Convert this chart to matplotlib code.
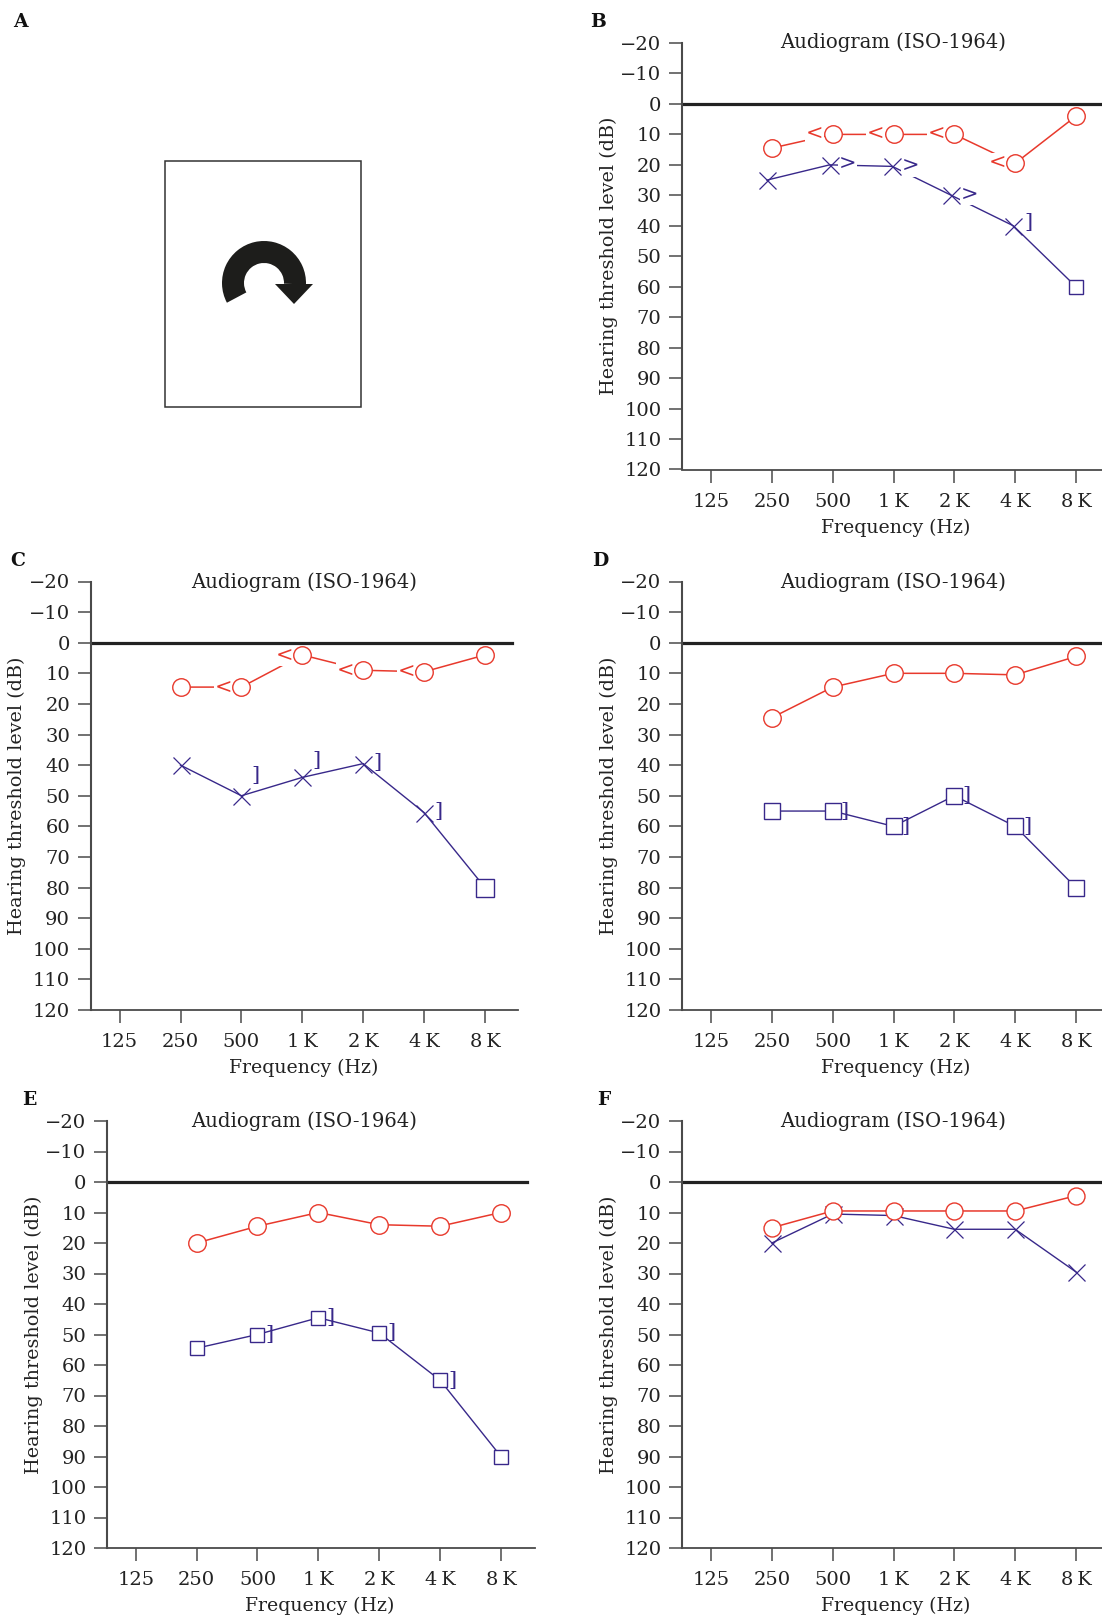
import matplotlib
matplotlib.use("Agg")
import matplotlib.pyplot as plt
from matplotlib.patches import Wedge, Polygon, Rectangle

plt.rcParams['font.family'] = 'DejaVu Serif'

W, H = 1102, 1616
RED = '#e8392c'
BLUE = '#38288a'
AXC = '#4a4a4a'
TXT = '#222222'

freq_labels = ['125', '250', '500', '1\u2009K', '2\u2009K', '4\u2009K', '8\u2009K']
y_ticks = list(range(-20, 130, 10))
y_labels = ['\u221220', '\u221210'] + [str(v) for v in range(0, 130, 10)]

# hearing thresholds, positions 1..6 = 250 Hz .. 8 kHz
b_red = [14.5, 10, 10, 10, 19.5, 4]
b_blue_x = [0.92, 1.95, 2.98, 3.95, 4.97, 6]
b_blue = [25, 20, 20.5, 30, 40, 60]
c_red = [14.5, 14.5, 4, 9, 9.5, 4]
c_blue = [40, 50, 44, 39.5, 55.5, 80]
d_red = [24.5, 14.5, 10, 10, 10.5, 4.5]
d_blue = [55, 55, 60, 50, 60, 80]
e_red = [20, 14.5, 10, 14, 14.5, 10]
e_blue = [54.5, 50, 44.5, 49.5, 65, 90]
f_red = [15, 9.5, 9.5, 9.5, 9.5, 4.5]
f_blue = [20, 10.5, 11, 15.5, 15.5, 29.5]
xs = [1, 2, 3, 4, 5, 6]

fig = plt.figure(figsize=(W / 100, H / 100), dpi=100)


def px(v):
    return v * 0.72


def panel(left, top, bottom, tick0, tick6, right, zero_end, red, blue, blue_x, blue_m, circle, blue_s, title_x, title_y, xlabel_x):
    ax = fig.add_axes([left / W, 1 - bottom / H, (right - left) / W, (bottom - top) / H])
    step = (tick6 - tick0) / 6
    ax.set_xlim((left - tick0) / step, (right - tick0) / step)
    ax.set_ylim(120, -20)
    ax.patch.set_alpha(0)
    for s in ['top', 'right']:
        ax.spines[s].set_visible(False)
    for s in ['left', 'bottom']:
        ax.spines[s].set_color(AXC)
        ax.spines[s].set_linewidth(1.5)
    ax.spines['bottom'].set_linewidth(1.3)
    ax.set_xticks(range(7))
    ax.set_xticklabels(freq_labels)
    ax.set_yticks(y_ticks)
    ax.set_yticklabels(y_labels)
    ax.tick_params(axis='both', length=px(13.5), width=1.1, color=AXC, labelsize=14, labelcolor=TXT)
    ax.tick_params(axis='x', pad=7)
    ax.tick_params(axis='y', pad=5)
    ax.axhline(0, xmax=(zero_end - left) / (right - left), color='#222222', lw=2.3, zorder=2)
    ax.set_xlabel('Frequency (Hz)', fontsize=13.6, color=TXT, labelpad=5.5, x=(xlabel_x + (tick0 - left) / step) / ((right - left) / step))
    ax.set_ylabel('Hearing threshold level (dB)', fontsize=13.8, color=TXT)
    ax.yaxis.set_label_coords(-64 / (right - left), 0.5)
    ax.text(title_x, title_y, 'Audiogram (ISO-1964)', fontsize=14.1, color=TXT, ha='center', va='center')
    ax.plot(xs, red, color=RED, lw=1.1, zorder=3)
    ax.plot(xs, red, ls='none', marker='o', ms=px(circle), mfc='white', mec=RED, mew=1.0, zorder=5, clip_on=False, snap=False)
    ax.plot(blue_x, blue, color=BLUE, lw=1.0, zorder=3)
    for x, y, m in zip(blue_x, blue, blue_m):
        if m == 'x':
            ax.plot(x, y, ls='none', marker='x', ms=px(17), mec=BLUE, mew=0.9, zorder=4.5, clip_on=False, snap=False)
        else:
            ax.plot(x, y, ls='none', marker='s', ms=px(blue_s), mfc='white', mec=BLUE, mew=1.0, zorder=4.5, clip_on=False, snap=False)
    return ax


def sym(ax, x, y, s, dx, dy, color, mask=True):
    box = dict(fc='white', ec='none', pad=0.5) if mask else None
    size = 15 if mask else 15
    ax.annotate(s, (x, y), xytext=(px(dx), -px(dy)), textcoords='offset points', color=color,
                fontsize=size, ha='center', va='center', zorder=4, bbox=box)


# panel A
ov = fig.add_axes([0, 0, 1, 1], zorder=10)
ov.set_xlim(0, W)
ov.set_ylim(H, 0)
ov.axis('off')
ov.patch.set_alpha(0)
ov.add_patch(Rectangle((165, 161), 196, 246, fc='none', ec='#333333', lw=1.1))
ov.add_patch(Wedge((264, 283), 42, 152, 362, width=22, fc='#1d1d1b', ec='none'))
ov.add_patch(Polygon([(275, 284), (313, 284), (294, 304)], fc='#1d1d1b', ec='none'))
for lab, x, y in [('A', 20, 22), ('B', 598, 22), ('C', 18, 561), ('D', 600, 561), ('E', 29, 1100), ('F', 604, 1100)]:
    ov.text(x, y, lab, fontsize=13.5, fontweight='bold', color='#111111', ha='center', va='center')

ax = panel(682, 43, 469.5, 711, 1076, 1102, 1102, b_red, b_blue, b_blue_x, ['x'] * 5 + ['s'], 17.5, 13.5, 3, -20.2, 3.04)
for i in [2, 3, 4, 5]:
    sym(ax, i, b_red[i - 1], '<', -18, 0, RED)
for i in [2, 3, 4]:
    sym(ax, b_blue_x[i - 1], b_blue[i - 1], '>', 18, 0, BLUE)
sym(ax, b_blue_x[4], b_blue[4], ']', 15, -3, BLUE, mask=False)

ax = panel(90.5, 581.5, 1010, 119.6, 485, 518, 512, c_red, c_blue, xs, ['x'] * 5 + ['s'], 17.5, 17.5, 3.03, -19.8, 3.03)
for i in [2, 3, 4, 5]:
    sym(ax, i, c_red[i - 1], '<', -18, 1, RED)
sym(ax, 2, c_blue[1], ']', 14, -20, BLUE, mask=False)
sym(ax, 3, c_blue[2], ']', 14, -17, BLUE, mask=False)
sym(ax, 4, c_blue[3], ']', 14, -1, BLUE, mask=False)
sym(ax, 5, c_blue[4], ']', 14, -1, BLUE, mask=False)

ax = panel(682, 581.5, 1010, 711, 1076, 1102, 1102, d_red, d_blue, xs, ['s'] * 6, 17.5, 15.5, 3, -19.8, 3.04)
for i in [2, 3, 4, 5]:
    sym(ax, i, d_blue[i - 1], ']', 12, 0, BLUE, mask=False)

ax = panel(107, 1121, 1548, 135.7, 501, 534.5, 527, e_red, e_blue, xs, ['s'] * 6, 17.5, 14.5, 2.76, -20, 3.02)
for i in [2, 3, 4, 5]:
    sym(ax, i, e_blue[i - 1], ']', 12, 0, BLUE, mask=False)

ax = panel(682, 1121, 1548, 711, 1076, 1102, 1102, f_red, f_blue, xs, ['x'] * 6, 17, 14, 3, -20, 3.04)

fig.savefig('out.png', dpi=100)
